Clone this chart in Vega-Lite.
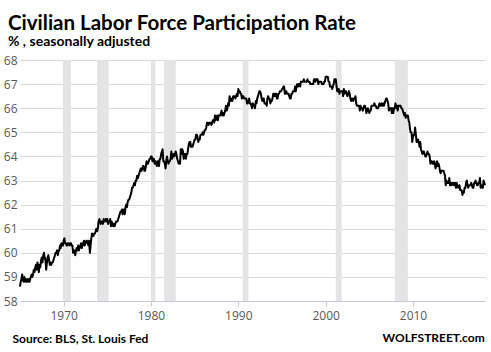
{
"$schema":"https://vega.github.io/schema/vega-lite/v6.json",
"width":465,"height":241,
"autosize":{"type":"none"},
"padding":{"left":20,"top":60,"right":6,"bottom":51},
"background":"white",
"title":{"text":"Civilian Labor Force Participation Rate","subtitle":"% , seasonally adjusted","anchor":"start","frame":"group","dx":-12,"font":"Lato","fontSize":20.5,"fontWeight":"bold","color":"#000000","subtitleFont":"Lato","subtitleFontSize":14,"subtitleFontWeight":"bold","subtitleColor":"#000000","subtitlePadding":1,"offset":5},
"config":{"view":{"stroke":null},"axis":{"labelFont":"Open Sans","labelFontSize":12,"labelColor":"#595959"}},
"datasets":{
"rec":[{"s":"1969-12","e":"1970-11"},{"s":"1973-11","e":"1975-03"},{"s":"1980-01","e":"1980-07"},{"s":"1981-07","e":"1982-11"},{"s":"1990-07","e":"1991-03"},{"s":"2001-03","e":"2001-11"},{"s":"2007-12","e":"2009-06"}],
"lfpr":[
{"t":"1965-01","v":58.6},{"t":"1965-02","v":58.8},{"t":"1965-03","v":58.9},{"t":"1965-04","v":59.1},{"t":"1965-05","v":58.9},{"t":"1965-06","v":58.8},{"t":"1965-07","v":59.0},{"t":"1965-08","v":58.8},{"t":"1965-09","v":58.9},{"t":"1965-10","v":58.8},{"t":"1965-11","v":58.9},{"t":"1965-12","v":58.8},
{"t":"1966-01","v":58.9},{"t":"1966-02","v":58.8},{"t":"1966-03","v":58.9},{"t":"1966-04","v":59.0},{"t":"1966-05","v":59.1},{"t":"1966-06","v":59.0},{"t":"1966-07","v":59.1},{"t":"1966-08","v":59.3},{"t":"1966-09","v":59.2},{"t":"1966-10","v":59.4},{"t":"1966-11","v":59.5},{"t":"1966-12","v":59.3},
{"t":"1967-01","v":59.6},{"t":"1967-02","v":59.4},{"t":"1967-03","v":59.2},{"t":"1967-04","v":59.5},{"t":"1967-05","v":59.4},{"t":"1967-06","v":59.7},{"t":"1967-07","v":59.8},{"t":"1967-08","v":59.6},{"t":"1967-09","v":59.9},{"t":"1967-10","v":60.0},{"t":"1967-11","v":59.8},{"t":"1967-12","v":59.7},
{"t":"1968-01","v":59.3},{"t":"1968-02","v":59.6},{"t":"1968-03","v":59.8},{"t":"1968-04","v":59.9},{"t":"1968-05","v":59.7},{"t":"1968-06","v":59.5},{"t":"1968-07","v":59.6},{"t":"1968-08","v":59.5},{"t":"1968-09","v":59.6},{"t":"1968-10","v":59.6},{"t":"1968-11","v":59.7},{"t":"1968-12","v":59.8},
{"t":"1969-01","v":59.9},{"t":"1969-02","v":60.0},{"t":"1969-03","v":60.0},{"t":"1969-04","v":60.1},{"t":"1969-05","v":59.9},{"t":"1969-06","v":60.1},{"t":"1969-07","v":60.1},{"t":"1969-08","v":60.3},{"t":"1969-09","v":60.2},{"t":"1969-10","v":60.4},{"t":"1969-11","v":60.3},{"t":"1969-12","v":60.3},
{"t":"1970-01","v":60.5},{"t":"1970-02","v":60.6},{"t":"1970-03","v":60.4},{"t":"1970-04","v":60.4},{"t":"1970-05","v":60.3},{"t":"1970-06","v":60.3},{"t":"1970-07","v":60.4},{"t":"1970-08","v":60.4},{"t":"1970-09","v":60.3},{"t":"1970-10","v":60.4},{"t":"1970-11","v":60.4},{"t":"1970-12","v":60.3},
{"t":"1971-01","v":60.3},{"t":"1971-02","v":60.0},{"t":"1971-03","v":60.1},{"t":"1971-04","v":60.1},{"t":"1971-05","v":59.9},{"t":"1971-06","v":60.1},{"t":"1971-07","v":60.2},{"t":"1971-08","v":60.1},{"t":"1971-09","v":60.3},{"t":"1971-10","v":60.1},{"t":"1971-11","v":60.2},{"t":"1971-12","v":60.3},
{"t":"1972-01","v":60.4},{"t":"1972-02","v":60.2},{"t":"1972-03","v":60.3},{"t":"1972-04","v":60.4},{"t":"1972-05","v":60.5},{"t":"1972-06","v":60.3},{"t":"1972-07","v":60.4},{"t":"1972-08","v":60.5},{"t":"1972-09","v":60.5},{"t":"1972-10","v":60.4},{"t":"1972-11","v":60.3},{"t":"1972-12","v":60.5},
{"t":"1973-01","v":60.0},{"t":"1973-02","v":60.3},{"t":"1973-03","v":60.6},{"t":"1973-04","v":60.8},{"t":"1973-05","v":60.7},{"t":"1973-06","v":60.7},{"t":"1973-07","v":60.8},{"t":"1973-08","v":60.8},{"t":"1973-09","v":60.9},{"t":"1973-10","v":61.0},{"t":"1973-11","v":60.9},{"t":"1973-12","v":61.0},
{"t":"1974-01","v":61.3},{"t":"1974-02","v":61.4},{"t":"1974-03","v":61.3},{"t":"1974-04","v":61.2},{"t":"1974-05","v":61.3},{"t":"1974-06","v":61.3},{"t":"1974-07","v":61.2},{"t":"1974-08","v":61.4},{"t":"1974-09","v":61.3},{"t":"1974-10","v":61.3},{"t":"1974-11","v":61.4},{"t":"1974-12","v":61.3},
{"t":"1975-01","v":61.4},{"t":"1975-02","v":61.2},{"t":"1975-03","v":61.3},{"t":"1975-04","v":61.3},{"t":"1975-05","v":61.4},{"t":"1975-06","v":61.1},{"t":"1975-07","v":61.3},{"t":"1975-08","v":61.2},{"t":"1975-09","v":61.1},{"t":"1975-10","v":61.2},{"t":"1975-11","v":61.1},{"t":"1975-12","v":61.2},
{"t":"1976-01","v":61.3},{"t":"1976-02","v":61.3},{"t":"1976-03","v":61.3},{"t":"1976-04","v":61.4},{"t":"1976-05","v":61.5},{"t":"1976-06","v":61.6},{"t":"1976-07","v":61.7},{"t":"1976-08","v":61.7},{"t":"1976-09","v":61.8},{"t":"1976-10","v":61.6},{"t":"1976-11","v":61.8},{"t":"1976-12","v":61.8},
{"t":"1977-01","v":61.6},{"t":"1977-02","v":61.9},{"t":"1977-03","v":62.0},{"t":"1977-04","v":61.9},{"t":"1977-05","v":62.1},{"t":"1977-06","v":62.2},{"t":"1977-07","v":62.2},{"t":"1977-08","v":62.3},{"t":"1977-09","v":62.4},{"t":"1977-10","v":62.5},{"t":"1977-11","v":62.7},{"t":"1977-12","v":62.7},
{"t":"1978-01","v":62.8},{"t":"1978-02","v":62.9},{"t":"1978-03","v":62.8},{"t":"1978-04","v":63.0},{"t":"1978-05","v":63.0},{"t":"1978-06","v":63.2},{"t":"1978-07","v":63.1},{"t":"1978-08","v":63.2},{"t":"1978-09","v":63.3},{"t":"1978-10","v":63.4},{"t":"1978-11","v":63.5},{"t":"1978-12","v":63.4},
{"t":"1979-01","v":63.5},{"t":"1979-02","v":63.6},{"t":"1979-03","v":63.6},{"t":"1979-04","v":63.4},{"t":"1979-05","v":63.4},{"t":"1979-06","v":63.6},{"t":"1979-07","v":63.8},{"t":"1979-08","v":63.7},{"t":"1979-09","v":63.7},{"t":"1979-10","v":63.8},{"t":"1979-11","v":63.9},{"t":"1979-12","v":63.9},
{"t":"1980-01","v":64.0},{"t":"1980-02","v":64.0},{"t":"1980-03","v":63.8},{"t":"1980-04","v":63.9},{"t":"1980-05","v":63.9},{"t":"1980-06","v":63.7},{"t":"1980-07","v":63.8},{"t":"1980-08","v":63.7},{"t":"1980-09","v":63.6},{"t":"1980-10","v":63.8},{"t":"1980-11","v":63.8},{"t":"1980-12","v":63.6},
{"t":"1981-01","v":63.9},{"t":"1981-02","v":63.9},{"t":"1981-03","v":64.1},{"t":"1981-04","v":64.2},{"t":"1981-05","v":64.3},{"t":"1981-06","v":63.8},{"t":"1981-07","v":63.8},{"t":"1981-08","v":63.7},{"t":"1981-09","v":63.5},{"t":"1981-10","v":63.8},{"t":"1981-11","v":64.0},{"t":"1981-12","v":63.8},
{"t":"1982-01","v":63.7},{"t":"1982-02","v":63.8},{"t":"1982-03","v":63.8},{"t":"1982-04","v":63.9},{"t":"1982-05","v":64.2},{"t":"1982-06","v":63.9},{"t":"1982-07","v":64.0},{"t":"1982-08","v":64.1},{"t":"1982-09","v":64.0},{"t":"1982-10","v":64.1},{"t":"1982-11","v":64.2},{"t":"1982-12","v":64.1},
{"t":"1983-01","v":63.9},{"t":"1983-02","v":63.8},{"t":"1983-03","v":63.7},{"t":"1983-04","v":63.8},{"t":"1983-05","v":63.7},{"t":"1983-06","v":64.3},{"t":"1983-07","v":64.1},{"t":"1983-08","v":64.3},{"t":"1983-09","v":64.2},{"t":"1983-10","v":63.9},{"t":"1983-11","v":64.1},{"t":"1983-12","v":64.1},
{"t":"1984-01","v":63.9},{"t":"1984-02","v":64.1},{"t":"1984-03","v":64.1},{"t":"1984-04","v":64.3},{"t":"1984-05","v":64.5},{"t":"1984-06","v":64.6},{"t":"1984-07","v":64.6},{"t":"1984-08","v":64.4},{"t":"1984-09","v":64.4},{"t":"1984-10","v":64.4},{"t":"1984-11","v":64.5},{"t":"1984-12","v":64.6},
{"t":"1985-01","v":64.7},{"t":"1985-02","v":64.7},{"t":"1985-03","v":64.9},{"t":"1985-04","v":64.9},{"t":"1985-05","v":64.8},{"t":"1985-06","v":64.6},{"t":"1985-07","v":64.7},{"t":"1985-08","v":64.7},{"t":"1985-09","v":64.9},{"t":"1985-10","v":64.9},{"t":"1985-11","v":64.9},{"t":"1985-12","v":65.0},
{"t":"1986-01","v":64.9},{"t":"1986-02","v":65.0},{"t":"1986-03","v":65.1},{"t":"1986-04","v":65.1},{"t":"1986-05","v":65.2},{"t":"1986-06","v":65.4},{"t":"1986-07","v":65.4},{"t":"1986-08","v":65.3},{"t":"1986-09","v":65.4},{"t":"1986-10","v":65.4},{"t":"1986-11","v":65.4},{"t":"1986-12","v":65.3},
{"t":"1987-01","v":65.4},{"t":"1987-02","v":65.5},{"t":"1987-03","v":65.5},{"t":"1987-04","v":65.4},{"t":"1987-05","v":65.7},{"t":"1987-06","v":65.5},{"t":"1987-07","v":65.6},{"t":"1987-08","v":65.7},{"t":"1987-09","v":65.5},{"t":"1987-10","v":65.7},{"t":"1987-11","v":65.7},{"t":"1987-12","v":65.7},
{"t":"1988-01","v":65.8},{"t":"1988-02","v":65.9},{"t":"1988-03","v":65.7},{"t":"1988-04","v":65.8},{"t":"1988-05","v":65.7},{"t":"1988-06","v":65.8},{"t":"1988-07","v":65.9},{"t":"1988-08","v":66.1},{"t":"1988-09","v":65.9},{"t":"1988-10","v":66.0},{"t":"1988-11","v":66.2},{"t":"1988-12","v":66.1},
{"t":"1989-01","v":66.5},{"t":"1989-02","v":66.3},{"t":"1989-03","v":66.3},{"t":"1989-04","v":66.4},{"t":"1989-05","v":66.3},{"t":"1989-06","v":66.5},{"t":"1989-07","v":66.5},{"t":"1989-08","v":66.5},{"t":"1989-09","v":66.4},{"t":"1989-10","v":66.5},{"t":"1989-11","v":66.6},{"t":"1989-12","v":66.5},
{"t":"1990-01","v":66.8},{"t":"1990-02","v":66.7},{"t":"1990-03","v":66.7},{"t":"1990-04","v":66.6},{"t":"1990-05","v":66.6},{"t":"1990-06","v":66.4},{"t":"1990-07","v":66.5},{"t":"1990-08","v":66.5},{"t":"1990-09","v":66.4},{"t":"1990-10","v":66.4},{"t":"1990-11","v":66.4},{"t":"1990-12","v":66.4},
{"t":"1991-01","v":66.2},{"t":"1991-02","v":66.2},{"t":"1991-03","v":66.3},{"t":"1991-04","v":66.4},{"t":"1991-05","v":66.2},{"t":"1991-06","v":66.2},{"t":"1991-07","v":66.1},{"t":"1991-08","v":66.0},{"t":"1991-09","v":66.2},{"t":"1991-10","v":66.1},{"t":"1991-11","v":66.1},{"t":"1991-12","v":66.0},
{"t":"1992-01","v":66.3},{"t":"1992-02","v":66.2},{"t":"1992-03","v":66.4},{"t":"1992-04","v":66.5},{"t":"1992-05","v":66.6},{"t":"1992-06","v":66.7},{"t":"1992-07","v":66.7},{"t":"1992-08","v":66.6},{"t":"1992-09","v":66.4},{"t":"1992-10","v":66.3},{"t":"1992-11","v":66.4},{"t":"1992-12","v":66.4},
{"t":"1993-01","v":66.2},{"t":"1993-02","v":66.2},{"t":"1993-03","v":66.2},{"t":"1993-04","v":66.1},{"t":"1993-05","v":66.4},{"t":"1993-06","v":66.5},{"t":"1993-07","v":66.4},{"t":"1993-08","v":66.4},{"t":"1993-09","v":66.2},{"t":"1993-10","v":66.3},{"t":"1993-11","v":66.3},{"t":"1993-12","v":66.4},
{"t":"1994-01","v":66.6},{"t":"1994-02","v":66.6},{"t":"1994-03","v":66.5},{"t":"1994-04","v":66.6},{"t":"1994-05","v":66.6},{"t":"1994-06","v":66.4},{"t":"1994-07","v":66.4},{"t":"1994-08","v":66.6},{"t":"1994-09","v":66.6},{"t":"1994-10","v":66.7},{"t":"1994-11","v":66.7},{"t":"1994-12","v":66.7},
{"t":"1995-01","v":66.8},{"t":"1995-02","v":66.8},{"t":"1995-03","v":66.9},{"t":"1995-04","v":66.9},{"t":"1995-05","v":66.6},{"t":"1995-06","v":66.6},{"t":"1995-07","v":66.7},{"t":"1995-08","v":66.6},{"t":"1995-09","v":66.6},{"t":"1995-10","v":66.6},{"t":"1995-11","v":66.5},{"t":"1995-12","v":66.4},
{"t":"1996-01","v":66.4},{"t":"1996-02","v":66.6},{"t":"1996-03","v":66.6},{"t":"1996-04","v":66.7},{"t":"1996-05","v":66.7},{"t":"1996-06","v":66.7},{"t":"1996-07","v":66.9},{"t":"1996-08","v":66.7},{"t":"1996-09","v":66.9},{"t":"1996-10","v":67.0},{"t":"1996-11","v":66.9},{"t":"1996-12","v":67.0},
{"t":"1997-01","v":67.0},{"t":"1997-02","v":66.9},{"t":"1997-03","v":67.1},{"t":"1997-04","v":67.1},{"t":"1997-05","v":67.1},{"t":"1997-06","v":67.1},{"t":"1997-07","v":67.2},{"t":"1997-08","v":67.1},{"t":"1997-09","v":67.1},{"t":"1997-10","v":67.1},{"t":"1997-11","v":67.1},{"t":"1997-12","v":67.2},
{"t":"1998-01","v":67.1},{"t":"1998-02","v":67.1},{"t":"1998-03","v":67.1},{"t":"1998-04","v":67.0},{"t":"1998-05","v":67.0},{"t":"1998-06","v":67.0},{"t":"1998-07","v":67.0},{"t":"1998-08","v":67.0},{"t":"1998-09","v":67.2},{"t":"1998-10","v":67.2},{"t":"1998-11","v":67.1},{"t":"1998-12","v":67.2},
{"t":"1999-01","v":67.2},{"t":"1999-02","v":67.2},{"t":"1999-03","v":67.0},{"t":"1999-04","v":67.1},{"t":"1999-05","v":67.1},{"t":"1999-06","v":67.1},{"t":"1999-07","v":67.1},{"t":"1999-08","v":67.0},{"t":"1999-09","v":67.0},{"t":"1999-10","v":67.0},{"t":"1999-11","v":67.1},{"t":"1999-12","v":67.1},
{"t":"2000-01","v":67.3},{"t":"2000-02","v":67.3},{"t":"2000-03","v":67.3},{"t":"2000-04","v":67.3},{"t":"2000-05","v":67.1},{"t":"2000-06","v":67.1},{"t":"2000-07","v":66.9},{"t":"2000-08","v":66.9},{"t":"2000-09","v":66.9},{"t":"2000-10","v":66.8},{"t":"2000-11","v":66.9},{"t":"2000-12","v":67.0},
{"t":"2001-01","v":67.2},{"t":"2001-02","v":67.1},{"t":"2001-03","v":67.2},{"t":"2001-04","v":66.9},{"t":"2001-05","v":66.7},{"t":"2001-06","v":66.7},{"t":"2001-07","v":66.8},{"t":"2001-08","v":66.6},{"t":"2001-09","v":66.7},{"t":"2001-10","v":66.7},{"t":"2001-11","v":66.7},{"t":"2001-12","v":66.7},
{"t":"2002-01","v":66.5},{"t":"2002-02","v":66.8},{"t":"2002-03","v":66.6},{"t":"2002-04","v":66.7},{"t":"2002-05","v":66.7},{"t":"2002-06","v":66.6},{"t":"2002-07","v":66.5},{"t":"2002-08","v":66.6},{"t":"2002-09","v":66.7},{"t":"2002-10","v":66.6},{"t":"2002-11","v":66.4},{"t":"2002-12","v":66.3},
{"t":"2003-01","v":66.4},{"t":"2003-02","v":66.4},{"t":"2003-03","v":66.3},{"t":"2003-04","v":66.4},{"t":"2003-05","v":66.4},{"t":"2003-06","v":66.5},{"t":"2003-07","v":66.2},{"t":"2003-08","v":66.1},{"t":"2003-09","v":66.1},{"t":"2003-10","v":66.1},{"t":"2003-11","v":66.1},{"t":"2003-12","v":65.9},
{"t":"2004-01","v":66.1},{"t":"2004-02","v":66.0},{"t":"2004-03","v":66.0},{"t":"2004-04","v":65.9},{"t":"2004-05","v":66.0},{"t":"2004-06","v":66.1},{"t":"2004-07","v":66.1},{"t":"2004-08","v":66.0},{"t":"2004-09","v":65.8},{"t":"2004-10","v":65.9},{"t":"2004-11","v":66.0},{"t":"2004-12","v":65.9},
{"t":"2005-01","v":65.8},{"t":"2005-02","v":65.9},{"t":"2005-03","v":65.9},{"t":"2005-04","v":66.1},{"t":"2005-05","v":66.1},{"t":"2005-06","v":66.1},{"t":"2005-07","v":66.1},{"t":"2005-08","v":66.2},{"t":"2005-09","v":66.1},{"t":"2005-10","v":66.1},{"t":"2005-11","v":66.0},{"t":"2005-12","v":66.0},
{"t":"2006-01","v":66.0},{"t":"2006-02","v":66.1},{"t":"2006-03","v":66.2},{"t":"2006-04","v":66.1},{"t":"2006-05","v":66.1},{"t":"2006-06","v":66.2},{"t":"2006-07","v":66.1},{"t":"2006-08","v":66.2},{"t":"2006-09","v":66.1},{"t":"2006-10","v":66.2},{"t":"2006-11","v":66.3},{"t":"2006-12","v":66.4},
{"t":"2007-01","v":66.4},{"t":"2007-02","v":66.3},{"t":"2007-03","v":66.2},{"t":"2007-04","v":65.9},{"t":"2007-05","v":66.0},{"t":"2007-06","v":66.0},{"t":"2007-07","v":66.0},{"t":"2007-08","v":65.8},{"t":"2007-09","v":66.0},{"t":"2007-10","v":65.8},{"t":"2007-11","v":66.0},{"t":"2007-12","v":66.0},
{"t":"2008-01","v":66.2},{"t":"2008-02","v":66.0},{"t":"2008-03","v":66.1},{"t":"2008-04","v":65.9},{"t":"2008-05","v":66.1},{"t":"2008-06","v":66.1},{"t":"2008-07","v":66.1},{"t":"2008-08","v":66.1},{"t":"2008-09","v":66.0},{"t":"2008-10","v":66.0},{"t":"2008-11","v":65.9},{"t":"2008-12","v":65.8},
{"t":"2009-01","v":65.7},{"t":"2009-02","v":65.8},{"t":"2009-03","v":65.6},{"t":"2009-04","v":65.7},{"t":"2009-05","v":65.7},{"t":"2009-06","v":65.7},{"t":"2009-07","v":65.5},{"t":"2009-08","v":65.4},{"t":"2009-09","v":65.1},{"t":"2009-10","v":65.0},{"t":"2009-11","v":65.0},{"t":"2009-12","v":64.6},
{"t":"2010-01","v":64.8},{"t":"2010-02","v":64.9},{"t":"2010-03","v":64.9},{"t":"2010-04","v":65.2},{"t":"2010-05","v":64.9},{"t":"2010-06","v":64.6},{"t":"2010-07","v":64.6},{"t":"2010-08","v":64.7},{"t":"2010-09","v":64.6},{"t":"2010-10","v":64.4},{"t":"2010-11","v":64.6},{"t":"2010-12","v":64.3},
{"t":"2011-01","v":64.2},{"t":"2011-02","v":64.1},{"t":"2011-03","v":64.2},{"t":"2011-04","v":64.2},{"t":"2011-05","v":64.1},{"t":"2011-06","v":64.0},{"t":"2011-07","v":64.0},{"t":"2011-08","v":64.1},{"t":"2011-09","v":64.2},{"t":"2011-10","v":64.1},{"t":"2011-11","v":64.1},{"t":"2011-12","v":64.0},
{"t":"2012-01","v":63.7},{"t":"2012-02","v":63.8},{"t":"2012-03","v":63.8},{"t":"2012-04","v":63.7},{"t":"2012-05","v":63.7},{"t":"2012-06","v":63.8},{"t":"2012-07","v":63.7},{"t":"2012-08","v":63.5},{"t":"2012-09","v":63.6},{"t":"2012-10","v":63.8},{"t":"2012-11","v":63.6},{"t":"2012-12","v":63.7},
{"t":"2013-01","v":63.6},{"t":"2013-02","v":63.4},{"t":"2013-03","v":63.3},{"t":"2013-04","v":63.4},{"t":"2013-05","v":63.4},{"t":"2013-06","v":63.4},{"t":"2013-07","v":63.4},{"t":"2013-08","v":63.3},{"t":"2013-09","v":63.2},{"t":"2013-10","v":62.8},{"t":"2013-11","v":63.0},{"t":"2013-12","v":62.9},
{"t":"2014-01","v":62.9},{"t":"2014-02","v":62.9},{"t":"2014-03","v":63.1},{"t":"2014-04","v":62.8},{"t":"2014-05","v":62.9},{"t":"2014-06","v":62.8},{"t":"2014-07","v":62.9},{"t":"2014-08","v":62.9},{"t":"2014-09","v":62.8},{"t":"2014-10","v":62.9},{"t":"2014-11","v":62.9},{"t":"2014-12","v":62.7},
{"t":"2015-01","v":62.9},{"t":"2015-02","v":62.8},{"t":"2015-03","v":62.7},{"t":"2015-04","v":62.7},{"t":"2015-05","v":62.8},{"t":"2015-06","v":62.6},{"t":"2015-07","v":62.6},{"t":"2015-08","v":62.6},{"t":"2015-09","v":62.4},{"t":"2015-10","v":62.5},{"t":"2015-11","v":62.5},{"t":"2015-12","v":62.7},
{"t":"2016-01","v":62.7},{"t":"2016-02","v":62.9},{"t":"2016-03","v":63.0},{"t":"2016-04","v":62.8},{"t":"2016-05","v":62.7},{"t":"2016-06","v":62.8},{"t":"2016-07","v":62.8},{"t":"2016-08","v":62.8},{"t":"2016-09","v":62.9},{"t":"2016-10","v":62.8},{"t":"2016-11","v":62.7},{"t":"2016-12","v":62.7},
{"t":"2017-01","v":62.9},{"t":"2017-02","v":62.9},{"t":"2017-03","v":63.0},{"t":"2017-04","v":62.9},{"t":"2017-05","v":62.8},{"t":"2017-06","v":62.8},{"t":"2017-07","v":62.9},{"t":"2017-08","v":62.9},{"t":"2017-09","v":63.1},{"t":"2017-10","v":62.7},{"t":"2017-11","v":62.8},{"t":"2017-12","v":62.7},
{"t":"2018-01","v":62.7},{"t":"2018-02","v":63.0},{"t":"2018-03","v":62.9},{"t":"2018-04","v":62.8}
]},
"layer":[
{"data":{"name":"rec"},"mark":{"type":"rect","color":"#e4e4e4"},
 "encoding":{"x":{"field":"s","type":"temporal","scale":{"type":"utc"}},"x2":{"field":"e"}}},
{"data":{"name":"lfpr"},"mark":{"type":"line","color":"#000000","strokeWidth":2,"strokeJoin":"round"},
 "encoding":{
  "x":{"field":"t","type":"temporal","scale":{"type":"utc","domain":[{"year":1965,"month":1,"date":1,"utc":true},{"year":2018,"month":4,"date":1,"utc":true}]},
   "axis":{"title":"Source: BLS, St. Louis Fed","titleFont":"Lato","titleFontSize":12,"titleFontWeight":"bold","titleColor":"#000000","titleAnchor":"start","titleAlign":"left","titleBaseline":"alphabetic","titleX":-8,"titleY":41,"format":"%Y","values":[{"year":1970,"utc":true},{"year":1980,"utc":true},{"year":1990,"utc":true},{"year":2000,"utc":true},{"year":2010,"utc":true}],"domainColor":"#c3cbd8","tickColor":"#c3cbd8","tickSize":5,"labelPadding":4,"grid":false}},
  "y":{"field":"v","type":"quantitative","scale":{"domain":[58,68],"nice":false,"zero":false},
   "axis":{"title":"WOLFSTREET.com","titleAngle":0,"titleFont":"Lato","titleFontSize":12,"titleFontWeight":"bold","titleColor":"#000000","titleAlign":"left","titleBaseline":"alphabetic","titleX":362,"titleY":281,"values":[58,59,60,61,62,63,64,65,66,67,68],"domain":false,"ticks":false,"grid":true,"gridColor":"#d9d9d9","labelPadding":3}}
 }}
]
}
